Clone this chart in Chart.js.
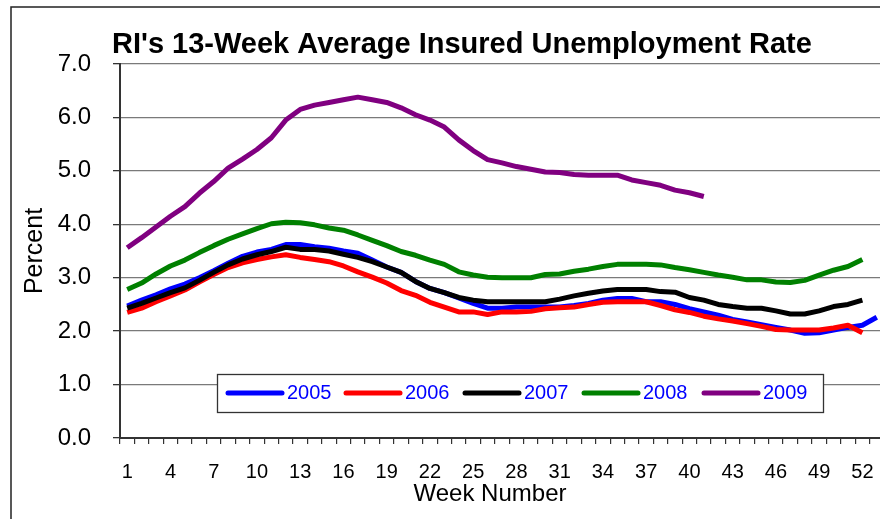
<!DOCTYPE html>
<html><head><meta charset="utf-8">
<script src="https://cdn.jsdelivr.net/npm/chart.js@4.4.1/dist/chart.umd.min.js"></script>
<style>
html,body{margin:0;padding:0;overflow:hidden;background:#fff;width:880px;height:519px}
#wrap{width:900px;height:519px;position:relative}
canvas{display:block}
</style></head>
<body><div id="wrap"><canvas id="c" width="900" height="519"></canvas></div>
<script>
const weeks = ["1","2","3","4","5","6","7","8","9","10","11","12","13","14","15","16","17","18","19","20","21","22","23","24","25","26","27","28","29","30","31","32","33","34","35","36","37","38","39","40","41","42","43","44","45","46","47","48","49","50","51","52","53"];
const seriesNames = ["2005","2006","2007","2008","2009"];
const y2005 = [2.47,2.58,2.68,2.79,2.88,3.00,3.13,3.27,3.40,3.48,3.53,3.62,3.62,3.58,3.55,3.50,3.46,3.33,3.20,3.10,2.93,2.80,2.72,2.62,2.52,2.43,2.43,2.45,2.45,2.45,2.45,2.48,2.52,2.58,2.61,2.61,2.55,2.55,2.50,2.42,2.36,2.30,2.22,2.17,2.12,2.07,2.02,1.96,1.97,2.02,2.07,2.11,2.26];
const y2006 = [2.35,2.43,2.55,2.66,2.77,2.92,3.06,3.19,3.28,3.34,3.39,3.43,3.38,3.34,3.30,3.22,3.11,3.01,2.90,2.76,2.67,2.54,2.45,2.36,2.36,2.31,2.36,2.36,2.37,2.42,2.44,2.45,2.50,2.54,2.55,2.55,2.55,2.48,2.40,2.35,2.28,2.23,2.19,2.14,2.09,2.03,2.02,2.02,2.02,2.06,2.11,1.97];
const y2007 = [2.43,2.52,2.62,2.72,2.81,2.95,3.10,3.24,3.35,3.43,3.49,3.57,3.53,3.53,3.50,3.44,3.38,3.30,3.20,3.10,2.93,2.80,2.72,2.63,2.58,2.55,2.55,2.55,2.55,2.55,2.60,2.66,2.71,2.75,2.78,2.78,2.78,2.74,2.73,2.63,2.58,2.50,2.46,2.43,2.43,2.38,2.32,2.32,2.38,2.46,2.50,2.58];
const y2008 = [2.78,2.90,3.07,3.22,3.33,3.47,3.60,3.72,3.82,3.92,4.01,4.04,4.03,3.99,3.93,3.89,3.80,3.70,3.60,3.49,3.42,3.33,3.25,3.11,3.05,3.01,3.00,3.00,3.00,3.06,3.07,3.12,3.16,3.21,3.25,3.25,3.25,3.24,3.19,3.15,3.10,3.05,3.01,2.96,2.96,2.92,2.91,2.95,3.05,3.14,3.21,3.34];
const y2009 = [3.56,3.75,3.95,4.15,4.33,4.58,4.80,5.05,5.22,5.40,5.62,5.95,6.15,6.23,6.28,6.33,6.38,6.33,6.28,6.18,6.05,5.95,5.82,5.58,5.38,5.21,5.15,5.08,5.03,4.98,4.97,4.93,4.92,4.92,4.92,4.83,4.78,4.73,4.64,4.59,4.52];
const yTicks = [0,1,2,3,4,5,6,7];
const colors = ["#0000FF","#FF0000","#000000","#008000","#800080"];
const allSeries = [y2005,y2006,y2007,y2008,y2009];

const FONT = "'Liberation Sans', Arial, sans-serif";

const decor = {
  id: 'decor',
  beforeDraw(chart) {
    const ctx = chart.ctx;
    ctx.save();
    ctx.fillStyle = '#fff';
    ctx.fillRect(0, 0, chart.width, chart.height);
    ctx.strokeStyle = '#222';
    ctx.lineWidth = 1.5;
    ctx.strokeRect(11, 7, 950, 600);
    ctx.restore();
  },
  afterDraw(chart) {
    const ctx = chart.ctx;
    ctx.save();
    // title
    ctx.fillStyle = '#000';
    ctx.font = "bold 29px " + FONT;
    ctx.textAlign = 'left';
    ctx.textBaseline = 'alphabetic';
    ctx.fillText("RI's 13-Week Average Insured Unemployment Rate", 112, 53);
    // y title
    ctx.font = "25px " + FONT;
    ctx.textAlign = 'center';
    ctx.textBaseline = 'middle';
    ctx.save();
    ctx.translate(35, 251);
    ctx.rotate(-Math.PI / 2);
    ctx.fillText('Percent', 0, 0);
    ctx.restore();
    // x title
    ctx.font = "24px " + FONT;
    ctx.fillText('Week Number', 490, 494);
    // legend
    const lx = 217, ly = 374, lw = 606, lh = 38;
    ctx.fillStyle = '#fff';
    ctx.fillRect(lx, ly, lw, lh);
    ctx.strokeStyle = '#333';
    ctx.lineWidth = 1.3;
    ctx.strokeRect(lx + 0.5, ly + 0.5, lw, lh);
    const starts = [226, 344, 463, 582, 702];
    chart.data.datasets.forEach((ds, i) => {
      const sx = starts[i];
      const cy = 393;
      ctx.strokeStyle = ds.borderColor;
      ctx.lineWidth = 5;
      ctx.lineCap = 'round';
      ctx.beginPath();
      ctx.moveTo(sx + 2, cy);
      ctx.lineTo(sx + 56, cy);
      ctx.stroke();
      ctx.fillStyle = '#0000FF';
      ctx.font = "20px " + FONT;
      ctx.textAlign = 'left';
      ctx.textBaseline = 'middle';
      ctx.fillText(ds.label, sx + 61, cy);
    });
    ctx.restore();
  }
};

new Chart(document.getElementById('c'), {
  type: 'line',
  data: {
    labels: weeks,
    datasets: seriesNames.map((name, i) => ({
      label: name,
      data: allSeries[i],
      borderColor: colors[i],
      backgroundColor: colors[i],
      borderWidth: 5,
      pointRadius: 0,
      tension: 0,
      fill: false,
      borderJoinStyle: 'round',
      order: 5 - i
    }))
  },
  options: {
    responsive: false,
    animation: false,
    events: [],
    layout: { padding: { top: 64, right: 16, bottom: 0, left: 0 } },
    plugins: { legend: { display: false }, title: { display: false }, tooltip: { enabled: false } },
    scales: {
      x: {
        type: 'category',
        offset: true,
        afterFit(s) { s.height = 81; },
        grid: { drawOnChartArea: false, drawTicks: true, tickLength: 6, tickColor: '#333', lineWidth: 1.2, offset: true },
        border: { display: true, color: '#333', width: 2 },
        ticks: {
          autoSkip: false, maxRotation: 0, minRotation: 0, padding: 16,
          color: '#000', font: { family: FONT, size: 20 },
          callback(v, idx) { return idx % 3 === 0 ? this.getLabelForValue(v) : ''; }
        }
      },
      y: {
        min: yTicks[0], max: yTicks[yTicks.length - 1],
        afterFit(s) { s.width = 120; },
        afterBuildTicks(s) { s.ticks = yTicks.map(v => ({ value: v })); },
        grid: { color: '#7a7a7a', lineWidth: 1.3, drawTicks: true, tickLength: 7, tickColor: '#333' },
        border: { display: true, color: '#333', width: 2 },
        ticks: {
          padding: 22, color: '#000', font: { family: FONT, size: 24 },
          callback(v) { return Number(v).toFixed(1); }
        }
      }
    }
  },
  plugins: [decor]
});
</script>
</body></html>
